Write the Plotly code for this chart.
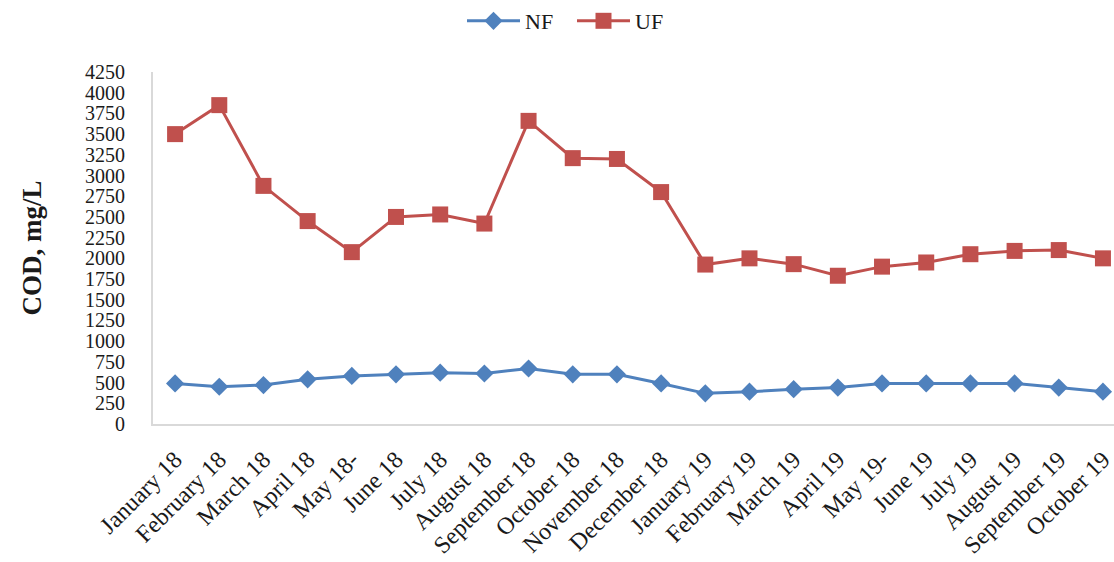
import plotly.graph_objects as go

months = [
    "January 18", "February 18", "March 18", "April 18", "May 18-", "June 18",
    "July 18", "August 18", "September 18", "October 18", "November 18",
    "December 18", "January 19", "February 19", "March 19", "April 19",
    "May 19-", "June 19", "July 19", "August 19", "September 19", "October 19",
]
nf_cod = [490, 450, 470, 540, 580, 600, 620, 610, 670, 600, 600, 490,
          370, 390, 420, 440, 490, 490, 490, 490, 440, 390]
uf_cod = [3500, 3850, 2875, 2450, 2075, 2500, 2530, 2420, 3660, 3210, 3200, 2800,
          1925, 2000, 1930, 1790, 1900, 1950, 2050, 2090, 2100, 2000]
y_ticks = list(range(0, 4251, 250))

font_family = "Liberation Serif, Times New Roman, serif"

fig = go.Figure()
fig.add_trace(go.Scatter(
    x=months, y=nf_cod, name="NF", mode="lines+markers",
    line=dict(color="#4F81BD", width=3),
    marker=dict(symbol="diamond", size=14, color="#4F81BD"),
))
fig.add_trace(go.Scatter(
    x=months, y=uf_cod, name="UF", mode="lines+markers",
    line=dict(color="#C0504D", width=3),
    marker=dict(symbol="square", size=16, color="#C0504D"),
))

fig.update_layout(
    width=1114, height=562,
    margin=dict(l=153, r=0, t=72, b=138),
    paper_bgcolor="white", plot_bgcolor="white",
    font=dict(family=font_family, size=22, color="#1a1a1a"),
    showlegend=True,
    legend=dict(orientation="h", x=462 / 1114, xanchor="left", xref="container",
                y=1.0, yanchor="top", yref="container",
                entrywidth=42, entrywidthmode="pixels", itemwidth=53,
                font=dict(size=22), bgcolor="rgba(0,0,0,0)"),
    xaxis=dict(
        type="category", range=[-0.5, 21.25],
        tickangle=-45, showgrid=False, ticks="",
        showline=True, linecolor="#D9D9D9", linewidth=2,
        ticklabelstandoff=10, tickfont=dict(size=24),
    ),
    yaxis=dict(
        range=[0, 4250], tickvals=y_ticks, ticktext=[str(v) for v in y_ticks],
        showgrid=False, zeroline=False, ticks="",
        showline=True, linecolor="#D9D9D9", linewidth=2,
        ticklabelstandoff=22, tickfont=dict(size=20),
        title=dict(text="<b>COD, mg/L</b>", font=dict(size=27), standoff=36),
    ),
)

fig.write_html("out.html")
